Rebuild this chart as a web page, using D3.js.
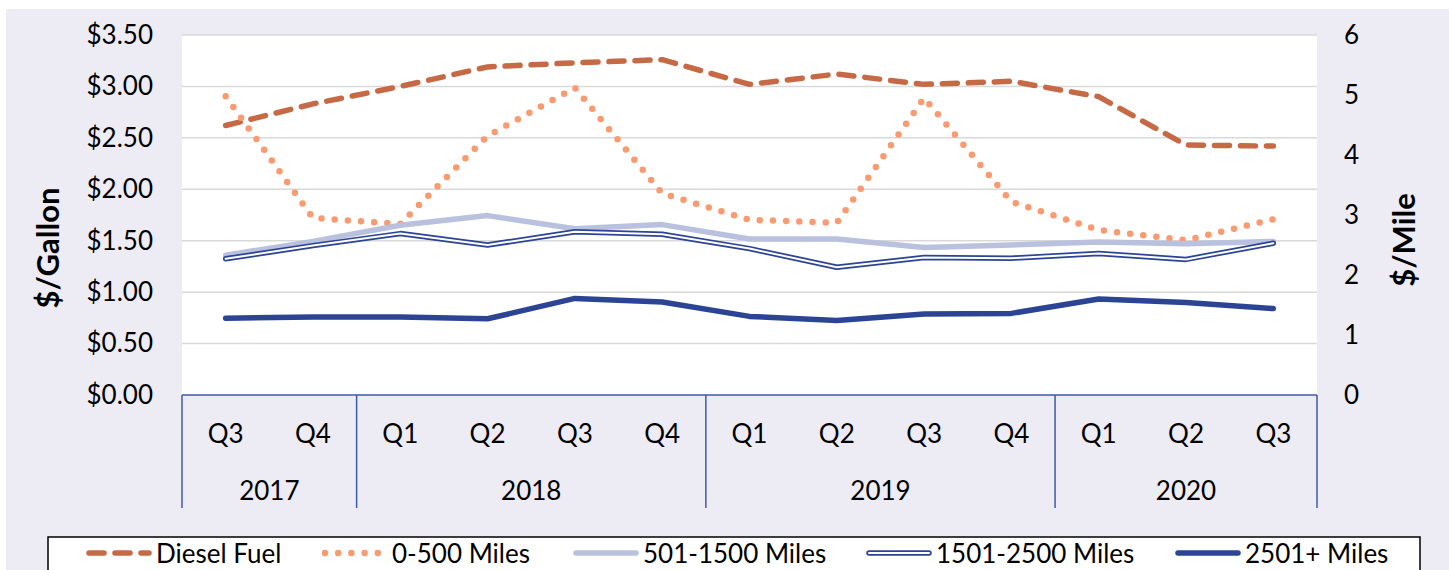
<!DOCTYPE html>
<html>
<head>
<meta charset="utf-8">
<script src="https://cdn.jsdelivr.net/npm/d3@7"></script>
<style>
  body { margin: 0; background: #fff; }
  svg { display: block; font-family: Lato, "Noto Sans", sans-serif; }
</style>
</head>
<body>
<svg id="chart" width="1449" height="570"></svg>
<script>
// Data
const quarters = ["Q3","Q4","Q1","Q2","Q3","Q4","Q1","Q2","Q3","Q4","Q1","Q2","Q3"]
const years = ["2017","2018","2019","2020"]
const yearCounts = [2, 4, 4, 3]

// $/Gallon (left axis)
const dieselFuel = [2.62, 2.83, 3.00, 3.19, 3.23, 3.26, 3.02, 3.12, 3.02, 3.05, 2.90, 2.43, 2.42]
// $/Mile (right axis)
const miles0to500 = [4.98, 2.95, 2.85, 4.32, 5.12, 3.36, 2.92, 2.87, 4.95, 3.22, 2.75, 2.58, 2.93]
const miles501to1500 = [2.33, 2.56, 2.83, 2.99, 2.77, 2.84, 2.60, 2.60, 2.46, 2.50, 2.55, 2.52, 2.56]
const miles1501to2500 = [2.27, 2.49, 2.69, 2.50, 2.72, 2.68, 2.44, 2.13, 2.29, 2.28, 2.36, 2.26, 2.53]
const miles2501plus = [1.28, 1.30, 1.30, 1.27, 1.61, 1.55, 1.31, 1.24, 1.35, 1.36, 1.60, 1.54, 1.44]

const leftTicks = [0, 0.5, 1, 1.5, 2, 2.5, 3, 3.5]
const rightTicks = [0, 1, 2, 3, 4, 5, 6]

// Layout
const svg = d3.select("#chart")
const plot = {left: 182, right: 1317, top: 35, bottom: 395}
const axisBlue = "#3e5aa8"
const darkBlue = "#2b4494"
const fontSize = 26

svg.append("rect").attr("x", 6).attr("y", 9).attr("width", 1449).attr("height", 570)
  .attr("fill", "#edecf4")
svg.append("rect").attr("x", plot.left).attr("y", plot.top)
  .attr("width", plot.right - plot.left).attr("height", plot.bottom - plot.top)
  .attr("fill", "#fff")

const x = d3.scaleBand().domain(d3.range(quarters.length)).range([plot.left, plot.right])
const yLeft = d3.scaleLinear().domain([0, 3.5]).range([plot.bottom, plot.top])
const yRight = d3.scaleLinear().domain([0, 6]).range([plot.bottom, plot.top])
const cx = i => x(i) + x.bandwidth() / 2

// gridlines
svg.append("g").selectAll("line").data(leftTicks.slice(1)).join("line")
  .attr("x1", plot.left).attr("x2", plot.right)
  .attr("y1", d => yLeft(d)).attr("y2", d => yLeft(d))
  .attr("stroke", "#d9d9d9").attr("stroke-width", 1.5)

// left axis labels
const leftAxis = svg.append("g").attr("transform", `translate(${plot.left},0)`)
  .call(d3.axisLeft(yLeft).tickValues(leftTicks).tickFormat(d => "$" + d.toFixed(2)).tickSize(0).tickPadding(29))
leftAxis.select(".domain").remove()
leftAxis.selectAll("text").attr("font-size", fontSize).attr("font-family", "Lato").attr("fill", "#000")

// right axis labels
const rightAxis = svg.append("g").attr("transform", `translate(${plot.right},0)`)
  .call(d3.axisRight(yRight).tickValues(rightTicks).tickFormat(d3.format("d")).tickSize(0).tickPadding(27))
rightAxis.select(".domain").remove()
rightAxis.selectAll("text").attr("font-size", fontSize).attr("font-family", "Lato").attr("fill", "#000")

// axis titles
svg.append("text").attr("transform", "translate(47,248) rotate(-90)")
  .attr("text-anchor", "middle").attr("dominant-baseline", "central")
  .attr("font-size", 31).attr("font-weight", "bold").text("$/Gallon")
svg.append("text").attr("transform", "translate(1403,240) rotate(-90)")
  .attr("text-anchor", "middle").attr("dominant-baseline", "central")
  .attr("font-size", 31).attr("font-weight", "bold").text("$/Mile")

// category axis (two levels)
const xg = svg.append("g")
xg.append("line").attr("x1", plot.left).attr("x2", plot.right)
  .attr("y1", plot.bottom).attr("y2", plot.bottom)
  .attr("stroke", axisBlue).attr("stroke-width", 1.5)
const bounds = [0]
yearCounts.forEach(n => bounds.push(bounds[bounds.length - 1] + n))
xg.selectAll("line.sep").data(bounds).join("line").attr("class", "sep")
  .attr("x1", d => d < quarters.length ? x(d) : plot.right)
  .attr("x2", d => d < quarters.length ? x(d) : plot.right)
  .attr("y1", plot.bottom).attr("y2", 508)
  .attr("stroke", axisBlue).attr("stroke-width", 1.5)
xg.selectAll("text.q").data(quarters).join("text").attr("class", "q")
  .attr("x", (d, i) => cx(i)).attr("y", 433)
  .attr("text-anchor", "middle").attr("dominant-baseline", "central")
  .attr("font-size", fontSize).text(d => d)
xg.selectAll("text.yr").data(years).join("text").attr("class", "yr")
  .attr("x", (d, i) => {
    const a = x(bounds[i])
    const b = bounds[i + 1] < quarters.length ? x(bounds[i + 1]) : plot.right
    return (a + b) / 2
  })
  .attr("y", 490)
  .attr("text-anchor", "middle").attr("dominant-baseline", "central")
  .attr("font-size", fontSize).text(d => d)

// series
const series = [
  {name: "Diesel Fuel", values: dieselFuel, y: yLeft, color: "#c66a46", width: 5.5, dash: "15,11", cap: "round"},
  {name: "0-500 Miles", values: miles0to500, y: yRight, color: "#f99a71", width: 6.5, dash: "0,13.2", cap: "round"},
  {name: "501-1500 Miles", values: miles501to1500, y: yRight, color: "#b9c1de", width: 5.5, dash: null, cap: "round"},
  {name: "1501-2500 Miles", values: miles1501to2500, y: yRight, color: darkBlue, width: 5.5, dash: null, cap: "round", double: true},
  {name: "2501+ Miles", values: miles2501plus, y: yRight, color: darkBlue, width: 5.5, dash: null, cap: "round"}
]

const lines = svg.append("g")
series.forEach(s => {
  const line = d3.line().x((d, i) => cx(i)).y(d => s.y(d))
  lines.append("path").attr("d", line(s.values))
    .attr("fill", "none").attr("stroke", s.color).attr("stroke-width", s.width)
    .attr("stroke-linecap", s.cap).attr("stroke-linejoin", "round")
    .attr("stroke-dasharray", s.dash)
  if (s.double) {
    lines.append("path").attr("d", line(s.values))
      .attr("fill", "none").attr("stroke", "#fff").attr("stroke-width", 2)
      .attr("stroke-linecap", "round").attr("stroke-linejoin", "round")
  }
})

// legend
svg.append("rect").attr("x", 48).attr("y", 537).attr("width", 1372).attr("height", 60)
  .attr("fill", "#fff").attr("stroke", "#000").attr("stroke-width", 1.5)
const legendX = [86, 322, 573, 866, 1175]
const legendY = 553
const lg = svg.append("g")
series.forEach((s, i) => {
  const x0 = legendX[i]
  lg.append("line").attr("x1", x0 + 3).attr("x2", x0 + 63).attr("y1", legendY).attr("y2", legendY)
    .attr("stroke", s.color).attr("stroke-width", s.width)
    .attr("stroke-linecap", s.cap).attr("stroke-dasharray", s.dash)
  if (s.double) {
    lg.append("line").attr("x1", x0 + 3).attr("x2", x0 + 63).attr("y1", legendY).attr("y2", legendY)
      .attr("stroke", "#fff").attr("stroke-width", 2).attr("stroke-linecap", "round")
  }
  lg.append("text").attr("x", x0 + 70).attr("y", legendY)
    .attr("dominant-baseline", "central").attr("font-size", fontSize).text(s.name)
})
</script>
</body>
</html>
